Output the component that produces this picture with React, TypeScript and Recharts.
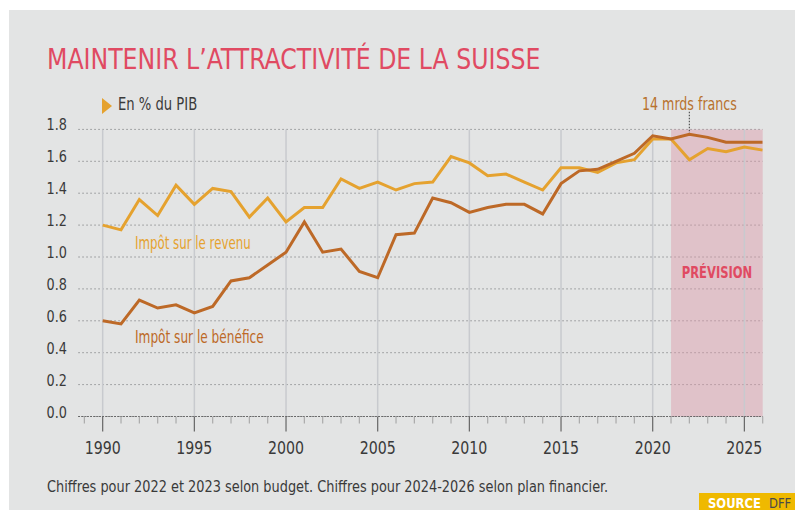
import { LineChart, Line, XAxis, YAxis, CartesianGrid, ReferenceArea, ReferenceLine } from 'recharts'

const YEARS = [
  1990, 1991, 1992, 1993, 1994, 1995, 1996, 1997, 1998, 1999,
  2000, 2001, 2002, 2003, 2004, 2005, 2006, 2007, 2008, 2009,
  2010, 2011, 2012, 2013, 2014, 2015, 2016, 2017, 2018, 2019,
  2020, 2021, 2022, 2023, 2024, 2025, 2026,
]

// Impôt sur le revenu, en % du PIB
const REVENU = [
  1.20, 1.17, 1.36, 1.26, 1.45, 1.33, 1.43, 1.41, 1.25, 1.37,
  1.22, 1.31, 1.31, 1.49, 1.43, 1.47, 1.42, 1.46, 1.47, 1.63,
  1.59, 1.51, 1.52, 1.47, 1.42, 1.56, 1.56, 1.53, 1.59, 1.61,
  1.74, 1.74, 1.61, 1.68, 1.66, 1.69, 1.67,
]

// Impôt sur le bénéfice, en % du PIB
const BENEFICE = [
  0.60, 0.58, 0.73, 0.68, 0.70, 0.65, 0.69, 0.85, 0.87, 0.95,
  1.03, 1.22, 1.03, 1.05, 0.91, 0.87, 1.14, 1.15, 1.37, 1.34,
  1.28, 1.31, 1.33, 1.33, 1.27, 1.46, 1.54, 1.55, 1.60, 1.65,
  1.76, 1.74, 1.77, 1.75, 1.72, 1.72, 1.72,
]

const Y_TICKS = [0, 0.2, 0.4, 0.6, 0.8, 1.0, 1.2, 1.4, 1.6, 1.8]
const X_TICKS = [
  1989, 1990, 1991, 1992, 1993, 1994, 1995, 1996, 1997, 1998, 1999,
  2000, 2001, 2002, 2003, 2004, 2005, 2006, 2007, 2008, 2009,
  2010, 2011, 2012, 2013, 2014, 2015, 2016, 2017, 2018, 2019,
  2020, 2021, 2022, 2023, 2024, 2025, 2026,
]
const MAJOR_YEARS = [1990, 1995, 2000, 2005, 2010, 2015, 2020, 2025]
const FORECAST_START = 2021
const FORECAST_END = 2026
const NOTE_YEAR = 2022
const NOTE_VALUE = 1.77

const data = YEARS.map((year, i) => ({ year, revenu: REVENU[i], benefice: BENEFICE[i] }))

const FONT = "'Liberation Sans Narrow', 'DejaVu Sans Condensed', 'Open Sans', sans-serif"
const TEXT = '#3a3a3a'
const YELLOW = '#e5a22f'
const BROWN = '#bd6927'
const RED = '#e04a62'

function XTick({ x, y, payload }: any) {
  const major = payload.value % 5 === 0
  return (
    <g>
      <line x1={x} x2={x} y1={y} y2={y + (major ? 15 : 7)} stroke={major ? '#666' : '#aaa'} strokeWidth={1.2} />
      {major && (
        <text transform={`translate(${x},${y + 37}) scale(0.9,1)`} textAnchor="middle" fontSize={17.5} fill={TEXT} fontFamily={FONT}>
          {payload.value}
        </text>
      )}
    </g>
  )
}

function YTick({ y, payload }: any) {
  return (
    <text transform={`translate(67,${y + 1}) scale(0.92,1)`} textAnchor="end" fontSize={15.5} fill={TEXT} fontFamily={FONT}>
      {payload.value.toFixed(1)}
    </text>
  )
}

const abs = (left: number, top: number, sx: number, extra: any = {}) => ({
  position: 'absolute' as const,
  left,
  top,
  whiteSpace: 'nowrap' as const,
  fontFamily: FONT,
  lineHeight: 1,
  transform: `scaleX(${sx})`,
  transformOrigin: 'left top',
  ...extra,
})

export default function App() {
  return (
    <div style={{ position: 'absolute', left: 0, top: 0, width: 795, height: 510, background: '#fff', overflow: 'hidden' }}>
      <div style={{ position: 'absolute', left: 9, top: 10, width: 786, height: 500, background: '#e3e4e4' }} />

      <div style={abs(47, 46, 0.955, { fontSize: 27.5, color: RED })}>MAINTENIR L’ATTRACTIVITÉ DE LA SUISSE</div>

      <div style={abs(102, 98, 1, { width: 0, height: 0, borderTop: '8px solid transparent', borderBottom: '8px solid transparent', borderLeft: `10px solid ${YELLOW}` })} />
      <div style={abs(118, 96, 0.86, { fontSize: 17, color: TEXT })}>En % du PIB</div>

      <div style={{ position: 'absolute', left: 0, top: 0 }}>
        <LineChart width={795} height={510} data={data} margin={{ top: 129.4, right: 32.3, bottom: 53.5, left: 0 }}>
          <CartesianGrid vertical={false} stroke="#8f9193" strokeDasharray="1.5 2.5" />
          {MAJOR_YEARS.map((yr) => (
            <ReferenceLine key={yr} x={yr} stroke="#c8cace" strokeWidth={1.5} />
          ))}
          <ReferenceArea x1={FORECAST_START} x2={FORECAST_END} y1={0} y2={1.8} fill="#dc9aa8" fillOpacity={0.45} stroke="none" />
          <XAxis
            dataKey="year"
            type="number"
            domain={[1988.67, 2026]}
            allowDataOverflow
            ticks={X_TICKS}
            interval={0}
            tick={<XTick />}
            tickLine={false}
            tickSize={0}
            tickMargin={0}
            height={40}
            axisLine={{ stroke: '#555', strokeDasharray: '1.5 1.5', strokeWidth: 1.2 }}
          />
          <YAxis
            domain={[0, 1.8]}
            ticks={Y_TICKS}
            width={78.3}
            axisLine={false}
            tickLine={false}
            tick={<YTick />}
            interval={0}
          />
          <ReferenceLine
            segment={[{ x: NOTE_YEAR, y: NOTE_VALUE }, { x: NOTE_YEAR, y: 1.91 }]}
            stroke="#555"
            strokeDasharray="1.5 1.5"
            strokeWidth={1.2}
            ifOverflow="visible"
          />
          <Line dataKey="revenu" stroke={YELLOW} strokeWidth={3} dot={false} isAnimationActive={false} />
          <Line dataKey="benefice" stroke={BROWN} strokeWidth={3} dot={false} isAnimationActive={false} />
        </LineChart>
      </div>

      <div style={abs(717, 265, 1, { fontSize: 16, fontWeight: 'bold', color: RED, transform: 'translateX(-50%) scaleX(0.8)', transformOrigin: 'center top' })}>PRÉVISION</div>

      <div style={abs(642, 95, 0.78, { fontSize: 18, color: '#b8722e' })}>14 mrds francs</div>
      <div style={abs(135, 235, 0.75, { fontSize: 17.5, color: YELLOW })}>Impôt sur le revenu</div>
      <div style={abs(135, 329, 0.77, { fontSize: 17.5, color: BROWN })}>Impôt sur le bénéfice</div>

      <div style={abs(47, 480, 0.925, { fontSize: 15.5, color: TEXT })}>
        Chiffres pour 2022 et 2023 selon budget. Chiffres pour 2024-2026 selon plan financier.
      </div>
      <div style={abs(699, 493, 1, { width: 96, height: 17, background: '#efb900' })} />
      <div style={abs(708, 496, 0.92, { fontSize: 14, color: '#fff', fontWeight: 'bold' })}>SOURCE</div>
      <div style={abs(769, 496, 0.92, { fontSize: 14, color: '#4a4a4a' })}>DFF</div>
    </div>
  )
}
